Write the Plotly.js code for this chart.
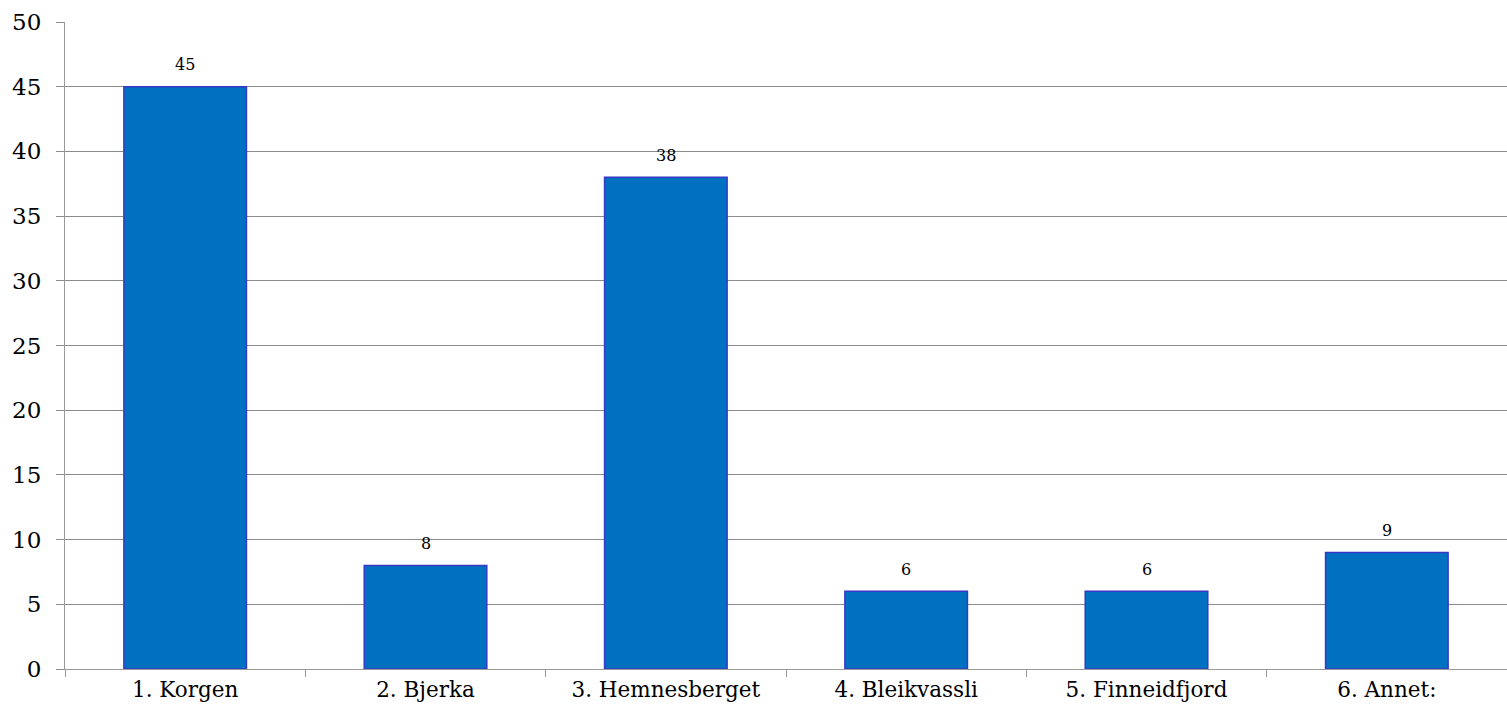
<!DOCTYPE html>
<html>
<head>
<meta charset="utf-8">
<script src="https://cdn.plot.ly/plotly-3.0.1.min.js"></script>
<style>html,body{margin:0;padding:0;background:#fff;}#chart{width:1507px;height:717px;}</style>
</head>
<body>
<div id="chart"></div>
<script>
const categories = ["1. Korgen", "2. Bjerka", "3. Hemnesberget", "4. Bleikvassli", "5. Finneidfjord", "6. Annet:"];
const values = [45, 8, 38, 6, 6, 9];
const yTicks = [0, 5, 10, 15, 20, 25, 30, 35, 40, 45, 50];

const fontFam = "'DejaVu Serif', 'Liberation Serif', serif";

const trace = {
  type: "bar",
  x: categories,
  y: values,
  marker: {color: "#0070C0", line: {color: "#3838C8", width: 1.5}},
  hoverinfo: "x+y"
};

const annotations = categories.map((c, i) => ({
  x: c, y: values[i], xref: "x", yref: "y",
  text: String(values[i]), showarrow: false,
  yanchor: "middle", yshift: 22,
  font: {family: fontFam, size: 16, color: "#000"}
}));

const layout = {
  width: 1507, height: 717,
  margin: {l: 65, r: 0, t: 22, b: 48},
  paper_bgcolor: "#fff", plot_bgcolor: "#fff",
  bargap: 0.49,
  showlegend: false,
  font: {family: fontFam, color: "#000"},
  xaxis: {
    type: "category",
    tickson: "boundaries",
    ticks: "outside", ticklen: 7, tickcolor: "#999", tickwidth: 1,
    showline: true, linecolor: "#999", linewidth: 1,
    showgrid: false,
    tickfont: {family: fontFam, size: 21.5, color: "#000"},
    ticklabelstandoff: 1,
    fixedrange: true
  },
  yaxis: {
    range: [0, 50],
    tickvals: yTicks,
    ticks: "outside", ticklen: 8, tickcolor: "#8c8c8c", tickwidth: 1,
    showline: true, linecolor: "#999", linewidth: 1,
    showgrid: true, gridcolor: "#8c8c8c", gridwidth: 1,
    zeroline: false,
    tickfont: {family: fontFam, size: 23, color: "#000"},
    ticklabelstandoff: 10,
    fixedrange: true
  },
  annotations: annotations
};

Plotly.newPlot("chart", [trace], layout, {displayModeBar: false, staticPlot: true});
</script>
</body>
</html>
